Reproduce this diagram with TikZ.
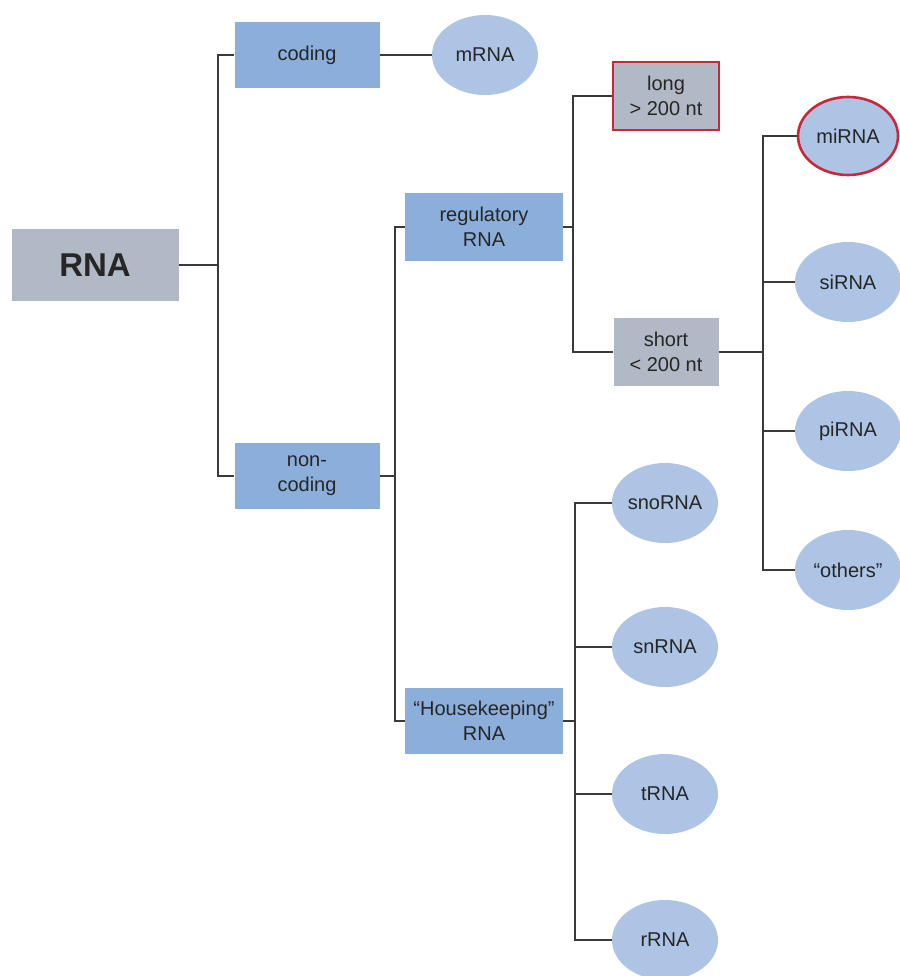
\documentclass[tikz,border=0pt]{standalone}
\usepackage{fontspec}
\setmainfont{Liberation Sans}
\usetikzlibrary{shapes.geometric,positioning}
\definecolor{boxBlue}{HTML}{8BAEDB}
\definecolor{ovalBlue}{HTML}{ADC4E5}
\definecolor{boxGray}{HTML}{B1B9C6}
\definecolor{markRed}{HTML}{C8283C}
\definecolor{lineGray}{HTML}{3A3A3A}
\tikzset{
	% Define style for blue boxes
	classBox/.style={
		rectangle,
		fill=boxBlue,
		text=black!85,
		align=center,
		font=\fontsize{20}{25}\selectfont,
		inner sep=0pt},
	% Define style for gray boxes
	sizeBox/.style={
		classBox,
		fill=boxGray},
	% Define style for the ovals
	typeOval/.style={
		ellipse,
		fill=ovalBlue,
		text=black!85,
		minimum width=106pt,
		minimum height=80pt,
		inner sep=0pt,
		font=\fontsize{20}{25}\selectfont},
	% Define highlight
	marked/.style={
		draw=markRed,
		line width=2.6pt},
	% Define line style
	edgeStyle/.style={
		draw=lineGray,
		line width=1.6pt}
}

\begin{document}
\begin{tikzpicture}[x=1pt,y=-1pt]
	\useasboundingbox[fill=white] (0,0) rectangle (899,976);
	
	%nodes
	\node[sizeBox, minimum width=167pt, minimum height=72pt, font=\fontsize{33}{36}\selectfont\bfseries] (rna) at (95,265) {RNA};
	
	\node[classBox, minimum width=145pt, minimum height=66pt] (coding) at (307,55) {coding};
	\node[typeOval] (mrna) at (485,55) {mRNA};
	
	\node[classBox, minimum width=145pt, minimum height=66pt] (noncoding) at (307,476) {non-\\coding};
	
	\node[classBox, minimum width=158pt, minimum height=67pt] (regulatory) at (484,227) {regulatory\\RNA};
	\node[classBox, minimum width=158pt, minimum height=66pt] (housekeeping) at (484,721) {``Housekeeping''\\RNA};
	
	\node[sizeBox, marked, minimum width=106pt, minimum height=68pt] (long) at (666,96) {long\\> 200 nt};
	\node[sizeBox, minimum width=105pt, minimum height=68pt] (short) at (666,352) {short\\< 200 nt};
	
	\node[typeOval, marked, minimum width=100pt, minimum height=78pt] (mirna) at (848,136) {miRNA};
	\node[typeOval] (sirna) at (848,282) {siRNA};
	\node[typeOval] (pirna) at (848,431) {piRNA};
	\node[typeOval] (others) at (848,570) {``others''};
	
	\node[typeOval] (snorna) at (665,503) {snoRNA};
	\node[typeOval] (snrna) at (665,647) {snRNA};
	\node[typeOval] (trna) at (665,794) {tRNA};
	\node[typeOval] (rrna) at (665,940) {rRNA};
	
	% branch points
	\coordinate (rnaSplit) at (218,265);
	\coordinate (ncSplit) at (395,476);
	\coordinate (regSplit) at (573,227);
	\coordinate (shortSplit) at (763,352);
	\coordinate (hkSplit) at (575,721);
	
	%connectors
	\draw[edgeStyle] (rna) -- (rnaSplit);
	\draw[edgeStyle] (rnaSplit) |- (coding);
	\draw[edgeStyle] (rnaSplit) |- (noncoding);
	\draw[edgeStyle] (coding) -- (mrna);
	
	\draw[edgeStyle] (noncoding) -- (ncSplit);
	\draw[edgeStyle] (ncSplit) |- (regulatory);
	\draw[edgeStyle] (ncSplit) |- (housekeeping);
	
	\draw[edgeStyle] (regulatory) -- (regSplit);
	\draw[edgeStyle] (regSplit) |- (long);
	\draw[edgeStyle] (regSplit) |- (short);
	
	\draw[edgeStyle] (short) -- (shortSplit);
	\foreach \leaf in {mirna,sirna,pirna,others}
		\draw[edgeStyle] (shortSplit) |- (\leaf);
	
	\draw[edgeStyle] (housekeeping) -- (hkSplit);
	\foreach \leaf in {snorna,snrna,trna,rrna}
		\draw[edgeStyle] (hkSplit) |- (\leaf);
	
\end{tikzpicture}
\end{document}
